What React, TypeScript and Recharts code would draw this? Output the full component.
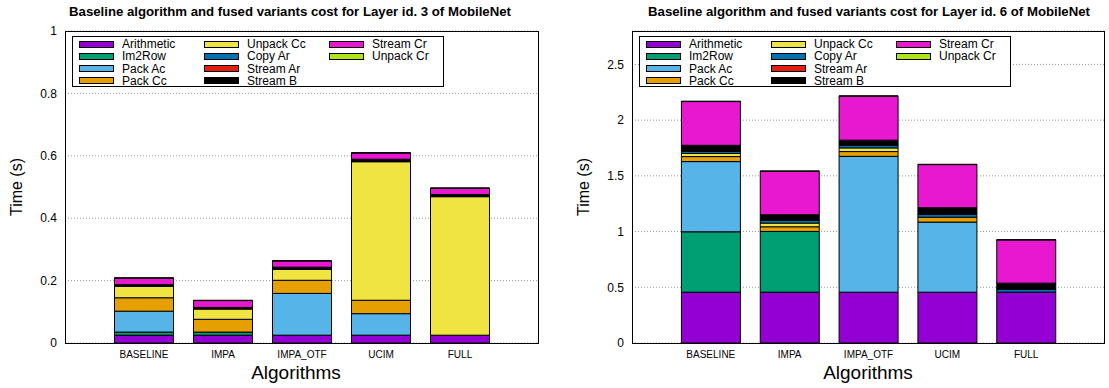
import * as React from 'react';
import { BarChart, Bar, XAxis, YAxis, CartesianGrid } from 'recharts';

const algorithms = ['BASELINE', 'IMPA', 'IMPA_OTF', 'UCIM', 'FULL'];
const components = ['Arithmetic', 'Im2Row', 'Pack Ac', 'Pack Cc', 'Unpack Cc', 'Copy Ar', 'Stream Ar', 'Stream B', 'Stream Cr', 'Unpack Cr'];
const colors = ['#9400d3', '#009e73', '#56b4e9', '#e69f00', '#f0e442', '#0072b2', '#e51e10', '#000000', '#e817d0', '#aee51a'];

// Layer id. 3 (seconds)
const arithmetic3 = [0.025, 0.025, 0.025, 0.025, 0.025];
const im2row3 = [0.010, 0.010, 0, 0, 0];
const packAc3 = [0.067, 0, 0.134, 0.069, 0];
const packCc3 = [0.043, 0.041, 0.042, 0.043, 0];
const unpackCc3 = [0.037, 0.033, 0.035, 0.444, 0.444];
const copyAr3 = [0.001, 0.001, 0.001, 0.001, 0.001];
const streamAr3 = [0, 0, 0, 0, 0];
const streamB3 = [0.004, 0.004, 0.006, 0.007, 0.006];
const streamCr3 = [0.021, 0.022, 0.020, 0.020, 0.020];
const unpackCr3 = [0.001, 0.001, 0.001, 0.001, 0.001];

// Layer id. 6 (seconds)
const arithmetic6 = [0.456, 0.456, 0.456, 0.456, 0.456];
const im2row6 = [0.542, 0.545, 0, 0, 0];
const packAc6 = [0.630, 0, 1.219, 0.629, 0];
const packCc6 = [0.045, 0.042, 0.043, 0.044, 0];
const unpackCc6 = [0.028, 0.033, 0.033, 0, 0];
const copyAr6 = [0.020, 0.024, 0.023, 0.026, 0.028];
const streamAr6 = [0.003, 0.003, 0.003, 0.003, 0.003];
const streamB6 = [0.050, 0.048, 0.043, 0.056, 0.050];
const streamCr6 = [0.393, 0.390, 0.395, 0.387, 0.388];
const unpackCr6 = [0.003, 0.003, 0.003, 0.003, 0.003];

const ticks3 = [0, 0.2, 0.4, 0.6, 0.8, 1];
const ticks6 = [0, 0.5, 1, 1.5, 2, 2.5];

const layer3 = [arithmetic3, im2row3, packAc3, packCc3, unpackCc3, copyAr3, streamAr3, streamB3, streamCr3, unpackCr3];
const layer6 = [arithmetic6, im2row6, packAc6, packCc6, unpackCc6, copyAr6, streamAr6, streamB6, streamCr6, unpackCr6];

const FONT = '"Liberation Sans", Arial, Helvetica, sans-serif';
const H = 388;
const PLOT_TOP = 31;
const PLOT_BOTTOM = 343;
const Y_W = 40;
const X_H = 20;
const blank = () => '';

function Panel({ panelLeft, panelWidth, plotLeft, plotRight, titleCenter, labelCenter, title, series, domain, ticks }: any) {
  const data = algorithms.map((name, i) => {
    const row: any = { name };
    components.forEach((c, k) => { row[c] = series[k][i]; });
    return row;
  });
  const plotW = plotRight - plotLeft;
  const pad = plotW / 12;
  const legendLeft = plotLeft + 7;

  return (
    <>
      <div style={{ position: 'absolute', left: panelLeft, top: 0 }}>
        <BarChart width={panelWidth} height={H} data={data} barCategoryGap={0}
          margin={{ top: PLOT_TOP, right: panelLeft + panelWidth - plotRight, bottom: H - PLOT_BOTTOM - X_H, left: plotLeft - panelLeft - Y_W }}>
          <CartesianGrid vertical={false} stroke="#999" strokeDasharray="1 2" />
          <XAxis dataKey="name" height={X_H} padding={{ left: pad, right: pad }} axisLine={false} tickLine={false}
            tick={{ fontSize: 10, fill: '#000', fontFamily: FONT }} interval={0} />
          <XAxis xAxisId="top" dataKey="name" orientation="top" mirror height={0} padding={{ left: pad, right: pad }}
            axisLine={false} tickLine={{ stroke: '#000' }} tickSize={5} tickFormatter={blank} interval={0} />
          <YAxis width={Y_W} domain={domain} ticks={ticks} allowDataOverflow axisLine={false} tickLine={false}
            tick={{ fontSize: 12, fill: '#000', fontFamily: FONT }} />
          <YAxis yAxisId="li" orientation="left" mirror width={0} domain={domain} ticks={ticks} allowDataOverflow
            type="number" axisLine={false} tickLine={{ stroke: '#000' }} tickSize={5} tickFormatter={blank} />
          <YAxis yAxisId="ri" orientation="right" mirror width={0} domain={domain} ticks={ticks} allowDataOverflow
            type="number" axisLine={false} tickLine={{ stroke: '#000' }} tickSize={5} tickFormatter={blank} />
          {components.map((c, k) => (
            <Bar key={c} dataKey={c} stackId="s" fill={colors[k]} stroke="#000" strokeWidth={1}
              barSize={59} isAnimationActive={false} />
          ))}
        </BarChart>
      </div>
      <div style={{ position: 'absolute', left: plotLeft, top: PLOT_TOP, width: plotW, height: PLOT_BOTTOM - PLOT_TOP + 1,
        border: '1px solid #000', boxSizing: 'border-box', pointerEvents: 'none' }} />
      <div style={{ position: 'absolute', left: titleCenter - 300, width: 600, top: 4, textAlign: 'center',
        fontFamily: FONT, fontWeight: 'bold', fontSize: 13.2, color: '#000' }}>{title}</div>
      <div style={{ position: 'absolute', left: labelCenter - 100, width: 200, top: 362, textAlign: 'center',
        fontFamily: FONT, fontSize: 19, color: '#000' }}>Algorithms</div>
      <div style={{ position: 'absolute', left: plotLeft - 48 - 50, width: 100, top: 187 - 10, height: 20, lineHeight: '20px',
        textAlign: 'center', transform: 'rotate(-90deg)', fontFamily: FONT, fontSize: 16, color: '#000' }}>Time (s)</div>
      <div style={{ position: 'absolute', left: legendLeft, top: 36, width: 372, height: 51, border: '1px solid #000',
        boxSizing: 'border-box', background: '#fff', fontFamily: FONT, fontSize: 12, color: '#000' }}>
        {components.map((c, k) => {
          const col = Math.floor(k / 4);
          const row = k % 4;
          return (
            <div key={c} style={{ position: 'absolute', left: 6 + col * 125, top: 1 + row * 12.3, height: 12, display: 'flex', alignItems: 'center' }}>
              <div style={{ width: 35, height: 7, background: colors[k], border: '1px solid #000', boxSizing: 'border-box' }} />
              <span style={{ marginLeft: 8, lineHeight: '12px' }}>{c}</span>
            </div>
          );
        })}
      </div>
    </>
  );
}

export default function App() {
  return (
    <div style={{ position: 'absolute', left: 0, top: 0, width: 1109, height: H, background: '#fff' }}>
      <Panel panelLeft={0} panelWidth={560} plotLeft={65} plotRight={539} titleCenter={290} labelCenter={296}
        title="Baseline algorithm and fused variants cost for Layer id. 3 of MobileNet"
        series={layer3} domain={[0, 1]} ticks={ticks3} />
      <Panel panelLeft={560} panelWidth={549} plotLeft={632} plotRight={1105} titleCenter={869} labelCenter={868}
        title="Baseline algorithm and fused variants cost for Layer id. 6 of MobileNet"
        series={layer6} domain={[0, 2.8]} ticks={ticks6} />
    </div>
  );
}
